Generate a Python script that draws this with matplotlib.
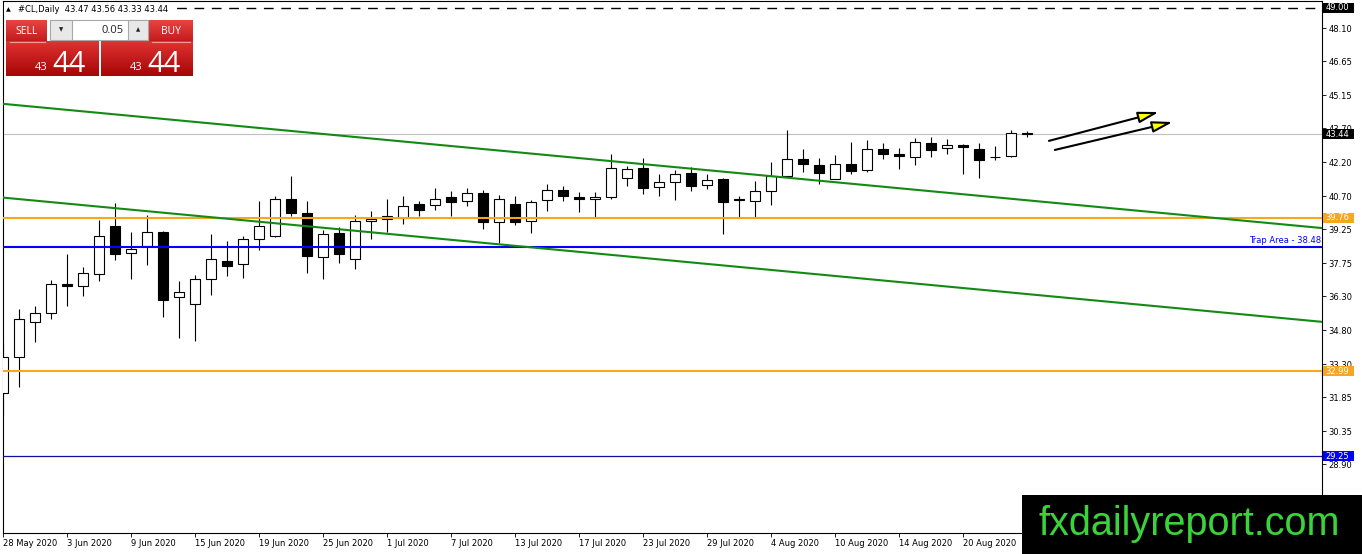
import numpy as np
import matplotlib
matplotlib.use("Agg")
import matplotlib.pyplot as plt
import matplotlib.patches as mpatches
import matplotlib.transforms as mtransforms
from matplotlib.colors import LinearSegmentedColormap

plt.rcParams['font.family'] = ['DejaVu Sans']

# #CL daily candles, 28 May 2020 .. 26 Aug 2020
opens = [32.04, 33.64, 35.18, 35.55, 36.83, 36.73, 37.27, 39.41, 38.20, 38.49,
         39.11, 36.26, 35.95, 37.05, 37.86, 37.70, 38.82, 38.93, 40.58, 39.97,
         38.02, 39.08, 37.94, 39.61, 39.70, 39.75, 40.36, 40.32, 40.67, 40.50,
         40.85, 39.58, 40.36, 39.63, 40.52, 40.99, 40.67, 40.58, 40.67, 41.51,
         41.95, 41.11, 41.33, 41.73, 41.20, 41.44, 40.60, 40.48, 40.92, 41.58,
         42.35, 42.08, 41.47, 42.13, 41.85, 42.79, 42.58, 42.44, 43.03, 42.84,
         42.98, 42.79, 42.41, 42.46, 43.47]
highs = [34.24, 35.73, 35.88, 37.02, 38.17, 37.58, 39.67, 40.41, 39.11, 39.89,
         39.15, 36.98, 37.24, 39.05, 38.74, 38.96, 40.51, 40.70, 41.61, 40.51,
         39.23, 39.35, 39.89, 40.07, 40.60, 40.73, 40.51, 41.07, 40.95, 41.07,
         40.96, 40.76, 40.73, 40.52, 41.26, 41.14, 40.89, 40.89, 42.54, 42.02,
         42.39, 41.69, 41.85, 41.98, 41.66, 41.51, 40.73, 41.39, 42.20, 43.64,
         42.80, 42.39, 42.50, 43.10, 43.16, 43.06, 42.84, 43.28, 43.32, 43.23,
         43.01, 43.03, 42.91, 43.64, 43.56]
lows = [31.07, 32.31, 34.26, 35.29, 35.85, 36.32, 36.99, 37.91, 37.05, 37.69,
        35.38, 34.48, 34.34, 36.33, 37.17, 37.08, 38.35, 38.91, 39.82, 37.32,
        37.05, 37.76, 37.50, 38.83, 39.11, 39.46, 39.82, 40.11, 39.85, 40.26,
        39.26, 38.64, 39.45, 39.08, 40.04, 40.48, 39.99, 39.79, 40.58, 41.14,
        40.82, 40.70, 40.52, 40.92, 41.03, 39.05, 39.79, 39.79, 40.30, 41.55,
        41.76, 41.25, 41.44, 41.69, 41.78, 42.35, 41.91, 42.07, 42.44, 42.57,
        41.70, 41.51, 42.29, 42.44, 43.33]
closes = [33.63, 35.29, 35.55, 36.83, 36.73, 37.32, 38.93, 38.14, 38.39, 39.11,
          36.11, 36.48, 37.05, 37.94, 37.65, 38.82, 39.41, 40.58, 39.97, 38.05,
          39.04, 38.16, 39.63, 39.70, 39.83, 40.29, 40.08, 40.58, 40.43, 40.85,
          39.57, 40.58, 39.57, 40.45, 40.96, 40.70, 40.58, 40.67, 41.95, 41.91,
          41.05, 41.33, 41.69, 41.14, 41.42, 40.43, 40.52, 40.94, 41.61, 42.35,
          42.13, 41.73, 42.13, 41.80, 42.79, 42.57, 42.46, 43.10, 42.73, 42.97,
          42.88, 42.29, 42.44, 43.50, 43.44]

date_labels = ['28 May 2020', '3 Jun 2020', '9 Jun 2020', '15 Jun 2020', '19 Jun 2020',
               '25 Jun 2020', '1 Jul 2020', '7 Jul 2020', '13 Jul 2020', '17 Jul 2020',
               '23 Jul 2020', '29 Jul 2020', '4 Aug 2020', '10 Aug 2020', '14 Aug 2020',
               '20 Aug 2020']
price_ticks = [48.10, 46.65, 45.15, 43.70, 42.20, 40.70, 39.25, 37.75, 36.30,
               34.80, 33.30, 31.85, 30.35, 28.90, 27.40]

# horizontal levels
top_level = 49.00
bid = 43.44
resist = [39.76, 32.99]
trap = 38.48
support = 29.25

# channel lines: (bar, price) end points
channel_upper = [(0, 44.77), (82.43, 39.30)]
channel_lower = [(0, 40.64), (82.43, 35.17)]

# the two yellow arrows: start -> tip, (bar, price)
arrow_paths = [((65.36, 43.14), (72.23, 44.41)),
               ((65.73, 42.74), (73.10, 43.97))]

ORANGE = '#f5a623'
GREEN = '#138a13'

W, H = 1362, 554
fig = plt.figure(figsize=(W / 100, H / 100), dpi=100)
ax = fig.add_axes([3 / W, (H - 533) / H, 1319 / W, 532 / H])
ax.set_xlim(-0.02, 82.43)
ax.set_ylim(25.87, 49.30)

o = np.array(opens); c = np.array(closes)
x = np.arange(len(o))
up = c >= o
ax.vlines(x, lows, highs, color='black', lw=0.8, zorder=2)
ax.bar(x, np.abs(c - o), bottom=np.minimum(o, c), width=0.625,
       color=np.where(up, 'white', 'black'), edgecolor='black', linewidth=0.8, zorder=3)

# levels and channel
ax.axhline(top_level, color='black', lw=1.0, dashes=(7, 5.5), zorder=5)
ax.axhline(bid, color='#c0c0c0', lw=0.8, zorder=1)
for r in resist:
    ax.axhline(r, color=ORANGE, lw=1.5, zorder=5)
ax.axhline(trap, color='#0000ff', lw=1.5, zorder=5)
ax.axhline(support, color='#10109a', lw=0.9, zorder=5)
for line in (channel_upper, channel_lower):
    xs, ys = zip(*line)
    ax.plot(xs, ys, color=GREEN, lw=1.5, zorder=5)

blend = mtransforms.blended_transform_factory(ax.transAxes, ax.transData)
ax.text(0.999, 38.74, 'Trap Area - 38.48', transform=blend,
        ha='right', va='center', fontsize=6, color='#0000ff', zorder=6)

for start, tip in arrow_paths:
    ax.add_patch(mpatches.FancyArrowPatch(start, tip,
                 arrowstyle='-|>,head_length=0.62,head_width=0.17', mutation_scale=20,
                 fc='#ffff00', ec='black', lw=1.5, zorder=6, shrinkA=0, shrinkB=0))

# axes look
for s in ax.spines.values():
    s.set_linewidth(0.8)
    s.set_color('black')
ax.set_xticks(range(0, 4 * len(date_labels), 4))
ax.set_xticklabels(date_labels, ha='left')
ax.tick_params(axis='x', direction='out', length=3, width=0.6, labelsize=6, pad=1)
ax.yaxis.tick_right()
ax.set_yticks(price_ticks)
ax.set_yticklabels([f'{p:.2f}' for p in price_ticks])
ax.tick_params(axis='y', direction='out', length=3, width=0.6, labelsize=6, pad=1.5)

# price boxes on the scale (they sit over the nearby scale labels, as in MT4)
ppx = (49.30 - 25.87) / 532
for price, col in [(top_level, 'black'), (bid, 'black'), (resist[0], ORANGE),
                   (resist[1], ORANGE), (support, '#0000ff')]:
    ax.add_patch(mpatches.Rectangle((1 + 1 / 1319, price - 5 * ppx), 31 / 1319, 10 * ppx,
                                    transform=blend, fc=col, ec='none', clip_on=False, zorder=7))
    ax.text(1 + 3.5 / 1319, price, f'{price:.2f}', transform=blend, ha='left', va='center',
            fontsize=6, color='white', clip_on=False, zorder=8)

# overlay in pixel coordinates: header, trade panel, watermark
ov = fig.add_axes([0, 0, 1, 1], zorder=5)
ov.axis('off')

ov.add_patch(mpatches.Rectangle((4, 3), 166, 12, fc='white', ec='none'))
ov.text(6, 9.5, '\u25b2', fontsize=4.5, va='center', color='black')
ov.text(18, 9.5, '#CL,Daily  43.47 43.56 43.33 43.44', fontsize=6, va='center', color='black')

grad = np.linspace(0, 1, 64).reshape(-1, 1)
red_big = LinearSegmentedColormap.from_list('red_big', ['#e03232', '#a60606'])
red_top = LinearSegmentedColormap.from_list('red_top', ['#e84444', '#c41c1c'])
for x0, x1 in [(6, 47), (149, 193)]:
    ov.imshow(grad, cmap=red_top, extent=(x0, x1, 41, 20), aspect='auto', origin='upper')
for x0, x1 in [(6, 99), (101, 193)]:
    ov.imshow(grad, cmap=red_big, extent=(x0, x1, 76, 41), aspect='auto', origin='upper')
ov.plot([10, 45], [41.5, 41.5], color='#f29a9a', lw=0.8)
ov.plot([152, 190], [41.5, 41.5], color='#f29a9a', lw=0.8)

ov.add_patch(mpatches.Rectangle((50, 20), 98, 20, fc='white', ec='#a8a8a8', lw=0.8))
ov.add_patch(mpatches.Rectangle((50, 20), 22, 20, fc='#e8e8e8', ec='#a8a8a8', lw=0.8))
ov.add_patch(mpatches.Rectangle((128, 20), 20, 20, fc='#e8e8e8', ec='#a8a8a8', lw=0.8))
ov.text(61, 30, '\u25bc', fontsize=4, ha='center', va='center', color='#222222')
ov.text(138, 30, '\u25b2', fontsize=4, ha='center', va='center', color='#222222')
ov.text(124, 30.5, '0.05', fontsize=8, ha='right', va='center', color='#222222', family='Open Sans')

ov.text(27, 31, 'SELL', fontsize=7.5, ha='center', va='center', color='white', family='Open Sans')
ov.text(171, 31, 'BUY', fontsize=7.5, ha='center', va='center', color='white', family='Open Sans')
for cx in (6, 101):
    ov.text(cx + 35, 70, '43', fontsize=8, ha='center', va='baseline', color='white', family='Open Sans')
    ov.text(cx + 63, 71.5, '44', fontsize=21, ha='center', va='baseline', color='white', family='Open Sans')

ov.add_patch(mpatches.Rectangle((1022, 495), 340, 59, fc='black', ec='none'))
ov.text(1189, 535, 'fxdailyreport.com', fontsize=28.5, ha='center', va='baseline',
        color='#3ad43a', family='Liberation Sans')

ov.set_xlim(0, W)
ov.set_ylim(H, 0)

fig.savefig('out.png', dpi=100)
